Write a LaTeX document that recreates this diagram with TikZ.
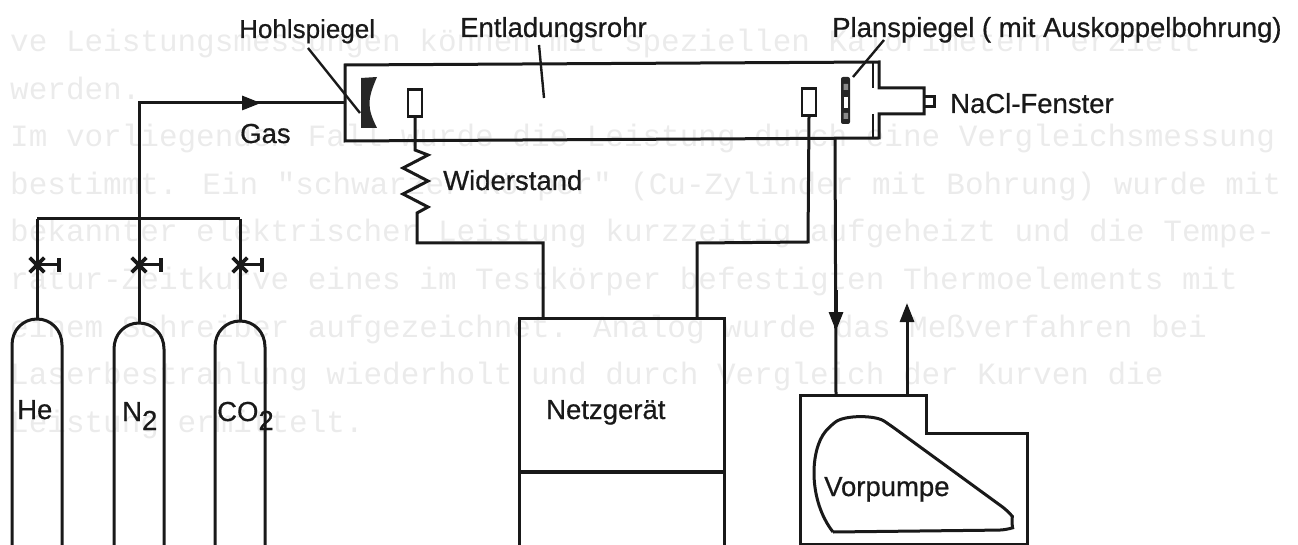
\documentclass[tikz,border=0pt]{standalone}
\usepackage{fontspec}
\setmainfont{Liberation Sans}[FakeBold=0.6]
\newfontfamily\ghostfont{Liberation Mono}
\usetikzlibrary{arrows.meta,shapes.misc}
\tikzset{
  wire/.style={line width=3pt,line join=miter,black!90},
  thinline/.style={line width=2.4pt,black!90},
  lbl/.style={anchor=base west,inner sep=0pt,text=black!90,font=\fontsize{27.5}{27.5}\selectfont},
  ghost/.style={anchor=base west,inner sep=0pt,text=black!8,font=\ghostfont\fontsize{31}{31}\selectfont},
  electrode/.style={draw=black!90,line width=2.6pt,fill=white,minimum width=14pt,minimum height=27pt,inner sep=0pt},
  valve/.style={cross out,draw=black!90,line width=3.6pt,minimum size=11pt,inner sep=0pt},
  flowtip/.style={-{Stealth[length=19pt,width=14pt,inset=0pt]}},
}
\begin{document}
\begin{tikzpicture}[x=1pt,y=-1pt]
\useasboundingbox (0,0) rectangle (1298,545);
% faint show-through of the typed page
\node[ghost] (g2) at (10,52) {ve Leistungsmessungen können mit speziellen Kalorimetern erzielt};
\node[ghost] (g3) at (10,99.5) {werden.};
\node[ghost] (g4) at (10,147) {Im vorliegenden Fall wurde die Leistung durch eine Vergleichsmessung};
\node[ghost] (g5) at (10,194.5) {bestimmt. Ein "schwarzer Körper" (Cu-Zylinder mit Bohrung) wurde mit};
\node[ghost] (g6) at (10,242) {bekannter elektrischer Leistung kurzzeitig aufgeheizt und die Tempe-};
\node[ghost] (g7) at (10,289.5) {ratur-Zeitkurve eines im Testkörper befestigten Thermoelements mit};
\node[ghost] (g8) at (10,337) {einem Schreiber aufgezeichnet. Analog wurde das Meßverfahren bei};
\node[ghost] (g9) at (10,384.5) {Laserbestrahlung wiederholt und durch Vergleich der Kurven die};
\node[ghost] (g10) at (10,432) {Leistung ermittelt.};

% discharge tube with flange and side arm
\draw[wire] (345,65) -- (879,62) -- (879,88) -- (924,88) -- (924,114) -- (879,114) -- (879,138) -- (345,141) -- cycle;
\draw[thinline] (873,63) -- (873,88) (873,114) -- (873,138);
\draw[wire] (924,97) -- (934,97) -- (934,107) -- (924,107);
\coordinate (tubeL) at (345,103);
\coordinate (tubeB) at (835,138.5);

% mirrors
\fill[black!85] (361,78) -- (377,77) .. controls (367,100) and (367,108) .. (377,128) -- (361,128) -- cycle;
\fill[black!85,rounded corners=2pt] (841,77) rectangle (850,124);
\fill[white] (843.5,97) rectangle (848,108);
\fill[black!45] (843.5,84) rectangle (848,90) (843.5,113) rectangle (848,119);

% electrodes
\node[electrode] (elL) at (415,103) {};
\node[electrode] (elR) at (809,102) {};

% power supply and pump
\node[draw=black!90,line width=3pt,minimum width=205pt,minimum height=232pt,inner sep=0pt,anchor=north west] (netz) at (518,317) {};
\draw[wire,line width=3.4pt] (519,472) -- (723,472);
\draw[wire] (800,547) -- (800,395) -- (926,395) -- (926,433) -- (1027,433) -- (1027,544) -- (800,544);
\coordinate (pumpIn) at (836,395);
\coordinate (pumpOut) at (907,395);
\draw[wire,rounded corners=7pt] (833,532) -- (1006,530) .. controls (1012,528) and (1012,516) .. (1008,511) -- (890,425)
  .. controls (875,415) and (845,415) .. (830,426) .. controls (810,450) and (808,500) .. (833,532);

% wiring
\draw[wire] (elL.south) -- (415,150) -- (428,155) -- (403,168) -- (428,181) -- (403,194) -- (428,207) -- (417,213) -- (417,243) -- (543,243) -- (543,318);
\draw[wire] (elR.south) -- (808,242) -- (697,243) -- (697,318);
% pump lines
\draw[wire] (tubeB) -- (pumpIn);
\coordinate (dnTip) at (836,331);
\coordinate (upTip) at (907,303);
\draw[wire,flowtip] (836,290) -- (dnTip);
\draw[wire,flowtip] (pumpOut) -- (upTip);

% gas line
\coordinate (manifold) at (139,219);
\draw[wire] (manifold) -- (139,103) -- (tubeL);
\draw[wire,flowtip] (200,103) -- (261,103);
\draw[wire] (37,219) -- (240,219);

% cylinders with valves
\foreach \n/\x/\t in {he/37/319,nn/139/323,co/240/321}{
  \draw[wire] (\x-25,547) -- (\x-25,\t+26) .. controls (\x-25,\t+11) and (\x-14,\t) .. (\x,\t)
     .. controls (\x+14,\t) and (\x+25,\t+11) .. (\x+25,\t+26) -- (\x+25,547);
  \draw[wire] (\x,219) -- (\x,\t);
  \node[valve] (v\n) at (\x,265) {};
  \draw[wire] (\x,265) -- (\x+22,265) coordinate (h\n);
  \draw[wire,line width=3.2pt] ([yshift=-7pt]h\n) -- ([yshift=7pt]h\n);
}

% leaders
\draw[thinline] (308,48) -- (360,113);
\draw[thinline] (539,45) -- (544,98);
\draw[thinline] (884,40) -- (853,77);

% labels
\node[lbl,font=\fontsize{26}{26}\selectfont] (tHohl) at (239,38) {Hohlspiegel};
\node[lbl] (tRohr) at (460,37) {Entladungsrohr};
\node[lbl] (tPlan) at (832,37) {Planspiegel ( mit Auskoppelbohrung)};
\node[lbl] (tNaCl) at (950,113) {NaCl-Fenster};
\node[lbl] (tGas) at (240,143) {Gas};
\node[lbl] (tWid) at (443,190) {Widerstand};
\node[lbl] (tNetz) at (546,419) {Netzgerät};
\node[lbl] (tVor) at (824,496) {Vorpumpe};
\node[lbl] (tHe) at (17,419) {He};
\node[lbl] (tN) at (122,421) {N\raisebox{-9pt}{2}};
\node[lbl] (tCO) at (217,421) {CO\raisebox{-9pt}{2}};
\end{tikzpicture}
\end{document}
